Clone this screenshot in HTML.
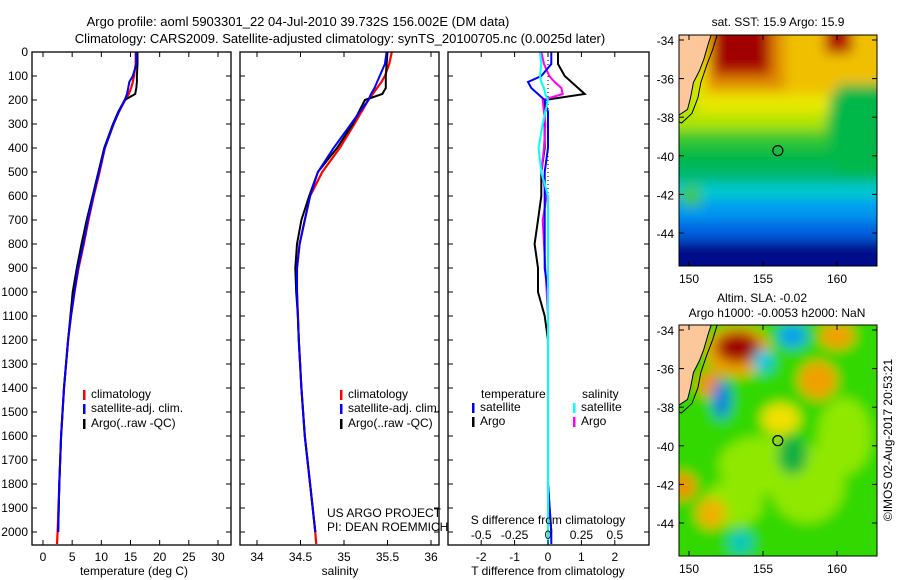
<!DOCTYPE html>
<html><head><meta charset="utf-8">
<style>
html,body{margin:0;padding:0;background:#fff;overflow:hidden;}
svg{display:block;font-family:"Liberation Sans",sans-serif;}
text{font-size:12px;fill:#000;}
</style></head>
<body>
<svg id="fig" width="900" height="580" viewBox="0 0 900 580" xmlns="http://www.w3.org/2000/svg">
<defs>
<clipPath id="c1"><rect x="32" y="52" width="199" height="493"/></clipPath>
<clipPath id="c2"><rect x="240" y="52" width="199" height="493"/></clipPath>
<clipPath id="c3"><rect x="448" y="52" width="201" height="493"/></clipPath>
<clipPath id="m1"><rect x="679" y="35" width="198" height="231"/></clipPath>
<clipPath id="m2"><rect x="679" y="325" width="198" height="231"/></clipPath>
<filter id="blur" x="-30%" y="-30%" width="160%" height="160%"><feGaussianBlur stdDeviation="6"/></filter>
</defs>
<text x="298" y="26" text-anchor="middle" style="font-size:13px">Argo profile: aoml 5903301_22 04-Jul-2010 39.732S 156.002E (DM data)</text>
<text x="340" y="43" text-anchor="middle" style="font-size:13px">Climatology: CARS2009. Satellite-adjusted climatology: synTS_20100705.nc (0.0025d later)</text>
<g id="g1" clip-path="url(#c1)"></g>
<g id="g2" clip-path="url(#c2)"></g>
<g id="g3" clip-path="url(#c3)"></g>
<g id="map1" clip-path="url(#m1)"></g>
<g id="map2" clip-path="url(#m2)"></g>
<g id="axes"></g>
<text x="778" y="26" text-anchor="middle">sat. SST: 15.9 Argo: 15.9</text>
<text x="762" y="302" text-anchor="middle">Altim. SLA: -0.02</text>
<text x="777" y="317" text-anchor="middle">Argo h1000: -0.0053 h2000: NaN</text>
<text transform="translate(892,440) rotate(-90)" text-anchor="middle">©IMOS 02-Aug-2017 20:53:21</text>
<text x="134" y="575" text-anchor="middle">temperature (deg C)</text>
<text x="340" y="575" text-anchor="middle">salinity</text>
<text x="548" y="575" text-anchor="middle">T difference from climatology</text>
<text x="548" y="524" text-anchor="middle">S difference from climatology</text>
<text x="327" y="517">US ARGO PROJECT</text>
<text x="327" y="531">PI: DEAN ROEMMICH</text>
<g id="leg"></g>
</svg>
<script>
const depths = [0,50,100,125,150,175,200,250,300,400,500,600,700,800,900,1000,1100,1200,1400,1600,1800,2000,2050];
const climT  = [15.9,15.9,15.6,15.4,15.1,14.7,14.1,13.0,12.1,10.6,9.7,8.7,7.8,7.0,6.1,5.4,4.8,4.3,3.6,3.1,2.8,2.5,2.4];
const satT   = [16.0,16.0,15.4,14.8,14.6,14.4,14.0,13.0,12.1,10.6,9.6,8.6,7.7,6.9,6.0,5.4,4.8,4.3,3.6,3.1,2.8,2.6,2.5];
const argoT  = [16.2,16.2,16.1,16.1,16.0,15.8,14.0,12.9,12.0,10.5,9.5,8.5,7.5,6.6,5.8,5.1,4.7,4.3,3.6,3.1,2.8,2.6,2.5];
const climS  = [35.55,35.52,35.47,35.43,35.38,35.33,35.28,35.20,35.12,34.95,34.75,34.61,34.55,34.49,34.46,34.46,34.47,34.48,34.51,34.55,34.61,34.67,34.68];
const satS   = [35.49,35.47,35.41,35.38,35.35,35.31,35.28,35.18,35.08,34.88,34.70,34.61,34.55,34.49,34.46,34.46,34.47,34.48,34.51,34.55,34.61,34.67,34.68];
const argoS  = [35.50,35.49,35.48,35.48,35.48,35.44,35.24,35.17,35.10,34.92,34.70,34.60,34.51,34.46,34.44,34.45,34.47,34.48,34.51,34.55,34.61,34.67,34.68];
const depthTicks = [0,100,200,300,400,500,600,700,800,900,1000,1100,1200,1300,1400,1500,1600,1700,1800,1900,2000];
const tempTicks = [0,5,10,15,20,25,30];
const salTicks = [34,34.5,35,35.5,36];
const tDiffTicks = [-2,-1,0,1,2];
const sDiffTicks = [-0.5,-0.25,0,0.25,0.5];
// SST field patches: [lonW, latN, lonE, latS, colour]
const sstRects = [
 [146,-30,166,-50,'#00108a'],
 [146,-30,166,-44.4,'#0060e0'],
 [146,-30,166,-43.4,'#0098f0'],
 [146,-30,166,-42.3,'#00c8d0'],
 [146,-30,166,-41.4,'#00b870'],
 [146,-30,166,-40.6,'#00b848'],
 [146,-30,159.5,-39.6,'#30c830'],
 [146,-30,159.3,-38.7,'#b0e400'],
 [150.5,-30,159.5,-37.8,'#e8e800'],
 [151,-30,166,-36.8,'#f0c000'],
 [151.3,-30,156.5,-36.6,'#e09000'],
 [151.6,-30,155.6,-35.9,'#c03000'],
 [151.8,-30,155.2,-35.5,'#a00000'],
 [159.2,-30,161,-34.7,'#b01000'],
 [160,-36.3,166,-41,'#00b848'],
 [149.5,-41.6,150.8,-42.6,'#40c840']
];
const slaLayers = [
 [156,-40,30,30,'#30d800'],[155,-41,3,1.5,'#90e800'],[158,-42,2.5,2,'#90e800'],[153,-43,2,1.2,'#90e800'],
 [160.5,-39.5,1.8,2,'#90e800'],[157,-40.5,1,1,'#10b040'],
 [153.3,-35.1,2.2,1.3,'#f0a000'],[153.3,-34.9,1.5,0.8,'#a00000'],[151.4,-36.8,0.9,0.7,'#f09000'],
 [152.2,-37.6,0.6,1.0,'#0080e0'],[155,-35.6,0.7,0.6,'#00c8e0'],[157,-34.3,1,0.6,'#00a0f0'],
 [158.7,-36.6,1.3,1.0,'#f0a000'],[156.2,-38.6,1.3,0.8,'#f0e000'],[149.6,-42.1,0.9,0.7,'#f09000'],
 [151.5,-43.5,1.0,0.8,'#f0b000'],[160,-34.3,1.2,0.7,'#f0a000'],[153.5,-45,0.8,0.6,'#00c8c0']
];
const NS='http://www.w3.org/2000/svg';
function mk(tag, attrs, parent){const e=document.createElementNS(NS,tag);for(const k in attrs)e.setAttribute(k,attrs[k]);parent.appendChild(e);return e;}
const yD=d=>52+d*0.24, xT=t=>43+t*5.833, xS=s=>257+(s-34)*87, xDT=v=>548+v*33.4, xDS=v=>548+v*133.6;
const lonX=l=>689+(l-150)*14.8, latY=(l,o)=>40+o+(-34-l)*19.3;
const g1=document.getElementById('g1'),g2=document.getElementById('g2'),g3=document.getElementById('g3'),ax=document.getElementById('axes'),leg=document.getElementById('leg');
function line(g,xs,fx,color,w,name,n){let pts=[];for(let i=0;i<(n||depths.length);i++)pts.push(fx(xs[i]).toFixed(1)+','+yD(depths[i]).toFixed(1));
 const p=mk('polyline',{points:pts.join(' '),fill:'none',stroke:color,'stroke-width':w},g);
 
 }
line(g1,climT,xT,'#f00',2.2,'climatology-temp-line');
line(g1,argoT,xT,'#000',2,'argo-temp-line',22);
line(g1,satT,xT,'#00f',2,'satellite-temp-line',22);
line(g2,climS,xS,'#f00',2.2,'climatology-salinity-line');
line(g2,argoS,xS,'#000',2,'argo-salinity-line',22);
line(g2,satS,xS,'#00f',2,'satellite-salinity-line',22);
const dz=mk('line',{x1:548,y1:52,x2:548,y2:260,stroke:'#000','stroke-dasharray':'1,3'},g3);


const dArgoT=argoT.map((v,i)=>v-climT[i]), dSatT=satT.map((v,i)=>v-climT[i]);
const dArgoS=argoS.map((v,i)=>v-climS[i]), dSatS=satS.map((v,i)=>v-climS[i]);
line(g3,dArgoT,xDT,'#000',2,'argo-temp-diff-line',22);
line(g3,dArgoS,xDS,'#f0f',2,'argo-salinity-diff-line',22);
line(g3,dSatT,xDT,'#00f',2,'satellite-temp-diff-line');
line(g3,dSatS,xDS,'#0ff',2,'satellite-salinity-diff-line');
const panels=[[32,231,tempTicks,xT,v=>String(v),'temp'],[240,439,salTicks,xS,v=>String(v),'sal'],[448,649,tDiffTicks,xDT,v=>String(v),'tdiff']];
panels.forEach(p=>{
 const r=mk('rect',{x:p[0],y:52,width:p[1]-p[0],height:493,fill:'none',stroke:'#000','stroke-width':1.3},ax);
 
 
 depthTicks.forEach(d=>{mk('line',{x1:p[0],x2:p[0]+5,y1:yD(d),y2:yD(d),stroke:'#000'},ax);mk('line',{x1:p[1]-5,x2:p[1],y1:yD(d),y2:yD(d),stroke:'#000'},ax);});
 p[2].forEach(v=>{const x=p[3](v);mk('line',{x1:x,x2:x,y1:52,y2:57,stroke:'#000'},ax);mk('line',{x1:x,x2:x,y1:540,y2:545,stroke:'#000'},ax);
  const t=mk('text',{x:x,y:561,'text-anchor':'middle'},ax);t.textContent=p[4](v);
  
  });
});
depthTicks.forEach(d=>{const t=mk('text',{x:28,y:yD(d)+4,'text-anchor':'end'},ax);t.textContent=d;
 
 });
sDiffTicks.forEach(v=>{const t=mk('text',{x:xDS(v),y:539,'text-anchor':'middle'},ax);t.textContent=v;
 
 });
const legItems=[[84,398,'#f00','climatology'],[84,412,'#00f','satellite-adj. clim.'],[84,427,'#000','Argo(..raw -QC)'],
 [341,398,'#f00','climatology'],[341,412,'#00f','satellite-adj. clim.'],[341,427,'#000','Argo(..raw -QC)'],
 [473,411,'#00f','satellite'],[473,425,'#000','Argo'],[574,411,'#0ff','satellite'],[574,425,'#f0f','Argo']];
legItems.forEach(it=>{mk('rect',{x:it[0]-1,y:it[1]-8,width:2.5,height:10,fill:it[2]},leg);
 const t=mk('text',{x:it[0]+7,y:it[1]},leg);t.textContent=it[3];
 
 });
[[481,398,'temperature'],[582,398,'salinity']].forEach(h=>{const t=mk('text',{x:h[0],y:h[1]},leg);t.textContent=h[2];
 
 });
function decorate(g,off,name){
 const coast=[[151.6,-33.5],[151.3,-34.2],[151,-35],[150.7,-35.6],[150.3,-36.2],[150.1,-37],[149.9,-37.6],[149.3,-37.9],[148.5,-38]];
 const land=mk('polygon',{points:'670,'+(off+30)+' '+coast.map(c=>lonX(c[0])+','+latY(c[1],off)).join(' '),fill:'#fcc89b',stroke:'#000','stroke-width':1},g);
 
 
 const shelf=mk('polyline',{points:[[152,-33.5],[151.6,-34.5],[151.2,-35.3],[150.8,-36.2],[150.6,-37],[150.2,-37.8],[149.5,-38.3],[149.2,-38.2]].map(c=>lonX(c[0])+','+latY(c[1],off)).join(' '),fill:'none',stroke:'#000','stroke-width':1},g);
 
 
 const fl=mk('circle',{cx:lonX(156.002),cy:latY(-39.732,off),r:5,fill:'none',stroke:'#000','stroke-width':1.2},g);
 
 
 const fr=mk('rect',{x:679,y:35+off,width:198,height:231,fill:'none',stroke:'#000'},ax);
 
 
 [-34,-36,-38,-40,-42,-44].forEach(l=>{const y=latY(l,off);mk('line',{x1:679,x2:684,y1:y,y2:y,stroke:'#000'},ax);mk('line',{x1:872,x2:877,y1:y,y2:y,stroke:'#000'},ax);
  const t=mk('text',{x:674,y:y+5,'text-anchor':'end'},ax);t.textContent=l;
  
  });
 [150,155,160].forEach(l=>{const x=lonX(l);mk('line',{x1:x,x2:x,y1:35+off,y2:40+off,stroke:'#000'},ax);mk('line',{x1:x,x2:x,y1:261+off,y2:266+off,stroke:'#000'},ax);
  const t=mk('text',{x:x,y:283+off,'text-anchor':'middle'},ax);t.textContent=l;
  
  });
}
// SST map
const gm1=document.getElementById('map1');
const b1=mk('g',{filter:'url(#blur)'},gm1);
sstRects.forEach(R=>{const x1=lonX(R[0]),x2=lonX(R[2]),y1=latY(R[1],0),y2=latY(R[3],0);
 const e=mk('rect',{x:x1,y:y1,width:x2-x1,height:y2-y1,fill:R[4]},b1);
 
 });
decorate(gm1,0,'sst-map');
// SLA map
const gm2=document.getElementById('map2');
const b2=mk('g',{filter:'url(#blur)'},gm2);
slaLayers.forEach(L=>{const e=mk('ellipse',{cx:lonX(L[0]),cy:latY(L[1],290),rx:L[2]*14.8,ry:L[3]*19.3,fill:L[4]},b2);
 
 });
decorate(gm2,290,'sla-map');
</script>
</body></html>
